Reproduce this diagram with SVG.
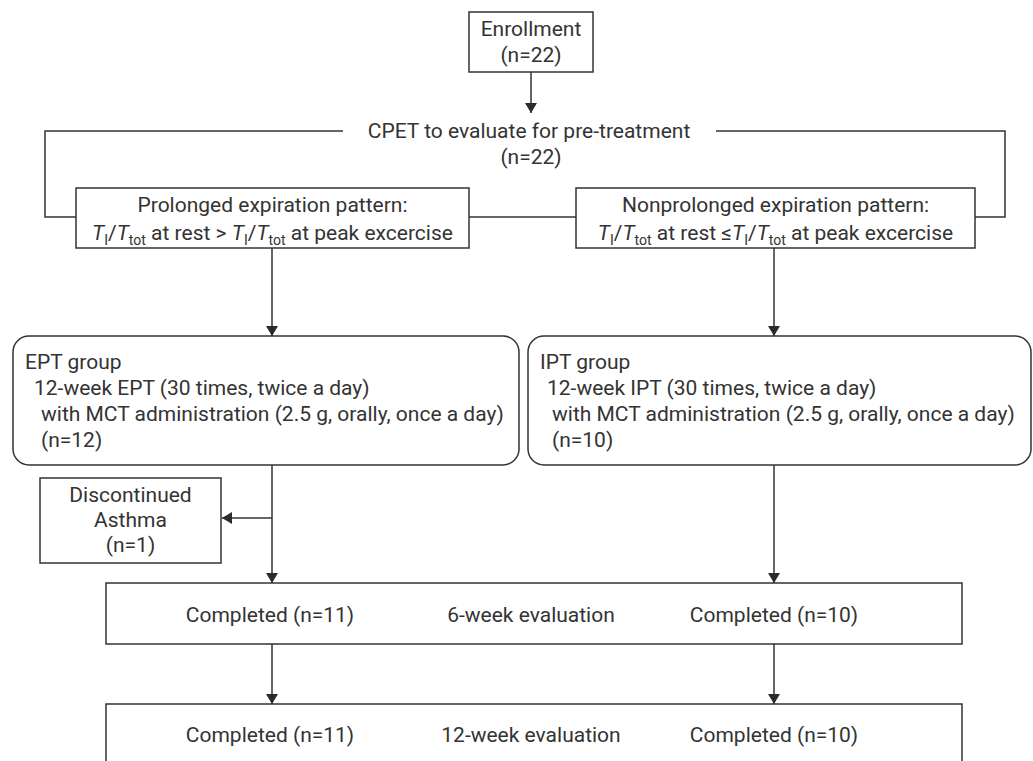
<svg xmlns="http://www.w3.org/2000/svg" width="1033" height="761" viewBox="0 0 1033 761">
<defs>
<marker id="ah" viewBox="0 0 10 12" refX="10" refY="6" markerWidth="10" markerHeight="12" orient="auto" markerUnits="userSpaceOnUse">
<path d="M0,0 L10,6 L0,12 z" fill="#2b2b2b"/>
</marker>
<style>
.box{fill:#fff;stroke:#333;stroke-width:1.5}
.t{font-family:Roboto,"Liberation Sans",sans-serif;font-size:21px;fill:#333}
.c{text-anchor:middle}
.e{stroke:#333;stroke-width:1.5;fill:none}
.s{font-size:14px}
.i{font-style:italic}
</style>
</defs>
<rect width="1033" height="761" fill="#fff"/>
<g id="connectors">
<line class="e" x1="531" y1="72" x2="531" y2="113" marker-end="url(#ah)"/>
<path class="e" d="M343,131 H45 V217 H76"/>
<path class="e" d="M716,131 H1005 V217 H975"/>
<line class="e" x1="469" y1="217" x2="576" y2="217"/>
<line class="e" x1="272" y1="248" x2="272" y2="336" marker-end="url(#ah)"/>
<line class="e" x1="774" y1="248" x2="774" y2="336" marker-end="url(#ah)"/>
<line class="e" x1="272" y1="465" x2="272" y2="583" marker-end="url(#ah)"/>
<line class="e" x1="272" y1="518" x2="222" y2="518" marker-end="url(#ah)"/>
<line class="e" x1="774" y1="465" x2="774" y2="583" marker-end="url(#ah)"/>
<line class="e" x1="272" y1="644" x2="272" y2="704" marker-end="url(#ah)"/>
<line class="e" x1="774" y1="644" x2="774" y2="704" marker-end="url(#ah)"/>
</g>
<g id="enrollment">
<rect class="box" x="469" y="12" width="124" height="60"/>
<text class="t c" x="531" y="36">Enrollment</text>
<text class="t c" x="531" y="62">(n=22)</text>
</g>
<g id="cpet">
<text class="t c" x="529" y="138">CPET to evaluate for pre-treatment</text>
<text class="t c" x="531" y="164">(n=22)</text>
</g>
<g id="prolonged">
<rect class="box" x="76" y="188" width="393" height="60"/>
<text class="t c" x="272.5" y="212">Prolonged expiration pattern:</text>
<text class="t c" x="272.5" y="240"><tspan class="i">T</tspan><tspan class="s" dy="5">I</tspan><tspan dy="-5">/</tspan><tspan class="i">T</tspan><tspan class="s" dy="5">tot</tspan><tspan dy="-5"> at rest &gt; </tspan><tspan class="i">T</tspan><tspan class="s" dy="5">I</tspan><tspan dy="-5">/</tspan><tspan class="i">T</tspan><tspan class="s" dy="5">tot</tspan><tspan dy="-5"> at peak excercise</tspan></text>
</g>
<g id="nonprolonged">
<rect class="box" x="576" y="188" width="399" height="60"/>
<text class="t c" x="775.5" y="212">Nonprolonged expiration pattern:</text>
<text class="t c" x="775.5" y="240"><tspan class="i">T</tspan><tspan class="s" dy="5">I</tspan><tspan dy="-5">/</tspan><tspan class="i">T</tspan><tspan class="s" dy="5">tot</tspan><tspan dy="-5"> at rest ≤</tspan><tspan class="i">T</tspan><tspan class="s" dy="5">I</tspan><tspan dy="-5">/</tspan><tspan class="i">T</tspan><tspan class="s" dy="5">tot</tspan><tspan dy="-5"> at peak excercise</tspan></text>
</g>
<g id="ept">
<rect class="box" x="13" y="336" width="506" height="129" rx="16"/>
<text class="t" x="25" y="369">EPT group</text>
<text class="t" x="34" y="395">12-week EPT (30 times, twice a day)</text>
<text class="t" x="41" y="421">with MCT administration (2.5 g, orally, once a day)</text>
<text class="t" x="41" y="447">(n=12)</text>
</g>
<g id="ipt">
<rect class="box" x="528" y="336" width="503" height="129" rx="16"/>
<text class="t" x="540" y="369">IPT group</text>
<text class="t" x="547" y="395">12-week IPT (30 times, twice a day)</text>
<text class="t" x="552" y="421">with MCT administration (2.5 g, orally, once a day)</text>
<text class="t" x="552" y="447">(n=10)</text>
</g>
<g id="discontinued">
<rect class="box" x="40" y="478" width="181" height="85"/>
<text class="t c" x="130.5" y="502">Discontinued</text>
<text class="t c" x="130.5" y="527">Asthma</text>
<text class="t c" x="130.5" y="552">(n=1)</text>
</g>
<g id="week6">
<rect class="box" x="106" y="583" width="856" height="61"/>
<text class="t c" x="270" y="622">Completed (n=11)</text>
<text class="t c" x="531" y="622">6-week evaluation</text>
<text class="t c" x="774" y="622">Completed (n=10)</text>
</g>
<g id="week12">
<rect class="box" x="106" y="704" width="856" height="80"/>
<text class="t c" x="270" y="742">Completed (n=11)</text>
<text class="t c" x="531" y="742">12-week evaluation</text>
<text class="t c" x="774" y="742">Completed (n=10)</text>
</g>
</svg>
